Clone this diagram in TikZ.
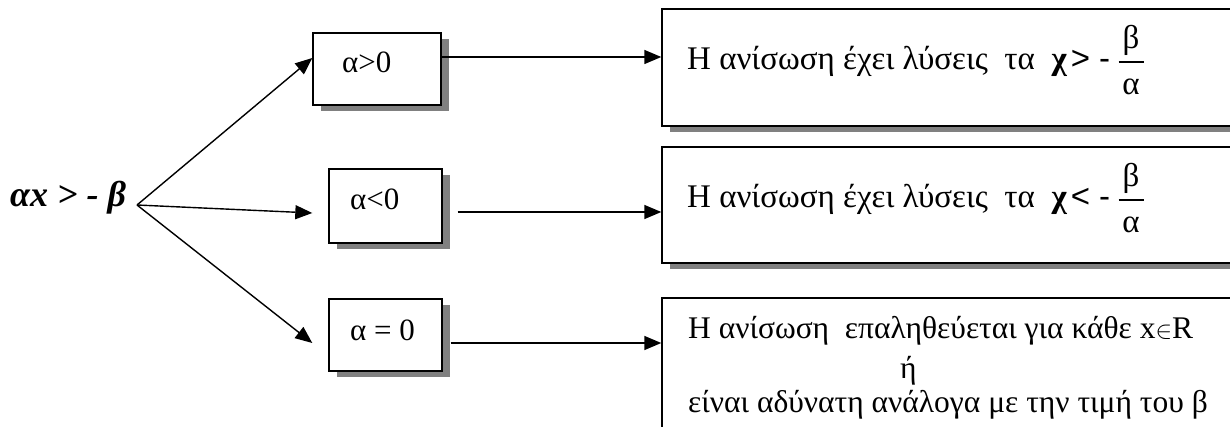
\documentclass[tikz,border=0pt]{standalone}
\usepackage{fontspec}
\setmainfont{Liberation Serif}
\newfontfamily\sansf{Liberation Sans}
\usetikzlibrary{arrows.meta,shadows,calc}
\tikzset{
  box/.style={draw, line width=1.4pt, fill=white, inner sep=0pt,
    drop shadow={shadow xshift=8pt, shadow yshift=-6pt, fill=black!50, opacity=1}},
  arr/.style={line width=1.4pt, -{Triangle[length=17pt,width=14pt]}},
  lbl/.style={anchor=base west, inner sep=0pt, font=\fontsize{33}{40}\selectfont},
  small/.style={lbl, font=\fontsize{31}{37}\selectfont},
  para/.style={lbl, font=\fontsize{31.5}{38}\selectfont},
  frbar/.style={inner sep=0pt},
}
\begin{document}
\begin{tikzpicture}[x=1pt,y=-1pt]
\useasboundingbox (0,0) rectangle (1230,427);
% left boxes
\node[box, minimum width=128pt, minimum height=72pt] (b1) at (377,69) {};
\node[box, minimum width=113pt, minimum height=74pt] (b2) at (385.5,206) {};
\node[box, minimum width=113pt, minimum height=72pt] (b3) at (385.5,335) {};
% right boxes
\node[box, minimum width=600pt, minimum height=117pt] (r1) at (962,67.5) {};
\node[box, minimum width=600pt, minimum height=116pt] (r2) at (962,205) {};
\node[box, minimum width=600pt, minimum height=142pt] (r3) at (962,369) {};
% source
\node[lbl, font=\fontsize{36}{42}\selectfont\bfseries\itshape] (s) at (10,207) {αx > - β};
\coordinate (o) at (137,205);
% labels in left boxes
\node[small] (t1) at (342,73) {α>0};
\node[small] (t2) at (350,210) {α<0};
\node[small] (t3) at (350,340) {α = 0};
% right texts
\node[lbl] (u1) at (687,70) {Η ανίσωση έχει λύσεις\ \ τα\ \ {\bfseries χ}\hspace{4pt}{\sansf > -}};
\node[frbar] (f1) at (1131,62) {\rule{25pt}{1.2pt}};
\node[lbl, anchor=base] (f1n) at (1131,49) {β};
\node[lbl, anchor=base] (f1d) at (1131,95) {α};
\node[lbl] (u2) at (687,208) {Η ανίσωση έχει λύσεις\ \ τα\ \ {\bfseries χ}\hspace{4pt}{\sansf < -}};
\node[frbar] (f2) at (1131,200) {\rule{25pt}{1.2pt}};
\node[lbl, anchor=base] (f2n) at (1131,187) {β};
\node[lbl, anchor=base] (f2d) at (1131,233) {α};
\node[para] (v1) at (688,338) {Η ανίσωση\ \ επαληθεύεται για κάθε x$\in$R};
\node[para] (v2) at (900,378) {ή};
\node[para] (v3) at (688,412) {είναι αδύνατη ανάλογα με την τιμή του β};
% connectors from source
\draw[arr] (o) -- ([yshift=11pt]b1.west);
\draw[arr] (o) -- ([xshift=-16pt,yshift=-7pt]b2.west);
\draw[arr] (o) -- ([xshift=-16pt,yshift=-8pt]b3.west);
% horizontal connectors
\coordinate (p1) at ([yshift=12pt]b1.east);
\coordinate (p2) at ([xshift=15pt,yshift=-6pt]b2.east);
\coordinate (p3) at ([xshift=8pt,yshift=-8pt]b3.east);
\draw[arr] (p1) -- (p1 -| r1.west);
\draw[arr] (p2) -- (p2 -| r2.west);
\draw[arr] (p3) -- (p3 -| r3.west);
\end{tikzpicture}
\end{document}
